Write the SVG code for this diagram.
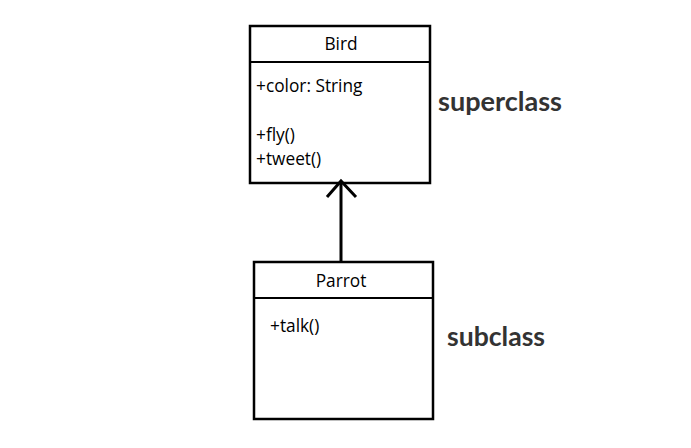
<svg xmlns="http://www.w3.org/2000/svg" width="691" height="448" viewBox="0 0 691 448">
<style>
.box{fill:#fff;stroke:#000;stroke-width:2.5}
.div{stroke:#000;stroke-width:2}
.t{font-family:"Open Sans","Noto Sans",sans-serif;font-size:17.3px;fill:#000}
.lbl{font-family:"Lato","DejaVu Sans",sans-serif;font-size:27px;fill:#333;font-weight:bold}
.conn{stroke:#000;stroke-width:3;fill:none}
</style>
<rect width="691" height="448" fill="#fff"/>
<g id="bird">
<rect class="box" x="250" y="26" width="180" height="157"/>
<line class="div" x1="250" y1="62" x2="430" y2="62"/>
<text class="t" x="341" y="50" text-anchor="middle">Bird</text>
<text class="t" x="256" y="92">+color: String</text>
<text class="t" x="256" y="141">+fly()</text>
<text class="t" x="256" y="165">+tweet()</text>
</g>
<g id="parrot">
<rect class="box" x="254" y="262" width="179" height="157"/>
<line class="div" x1="254" y1="298" x2="433" y2="298"/>
<text class="t" x="341" y="287" text-anchor="middle">Parrot</text>
<text class="t" x="270" y="332">+talk()</text>
</g>
<g id="connectors">
<line class="conn" x1="341" y1="262" x2="341" y2="183"/>
<polyline class="conn" points="327,197 341,181 356,197"/>
</g>
<g id="labels">
<text class="lbl" x="438" y="111" textLength="124" lengthAdjust="spacingAndGlyphs">superclass</text>
<text class="lbl" x="447" y="346" textLength="98" lengthAdjust="spacingAndGlyphs">subclass</text>
</g>
</svg>
